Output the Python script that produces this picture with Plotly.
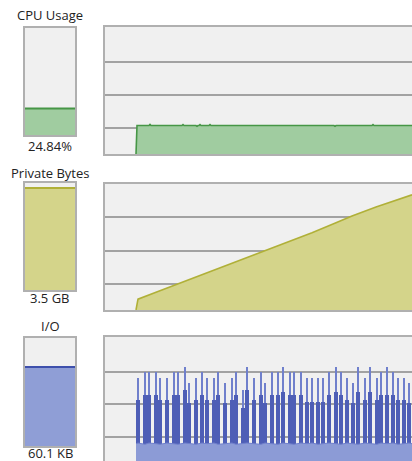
import plotly.graph_objects as go

W, H = 412, 461

# ---------------- data ----------------
titles = ["CPU Usage", "Private Bytes", "I/O"]
value_labels = ["24.84%", "3.5 GB", "60.1 KB"]

# CPU usage (%)
cpu_now = 24.84
cpu_t = [0, 1, 13, 14, 15, 46, 47, 48, 60, 61, 62, 63, 64, 65, 73, 74, 75,
         198, 199, 200, 236, 237, 238, 276]
cpu_pct = [0, 22.4, 22.4, 23.3, 22.4, 22.4, 23.2, 22.4, 22.4, 21.8, 22.4, 22.4,
           23.2, 22.4, 22.4, 23.2, 22.4, 22.4, 21.8, 22.4, 22.4, 23.1, 22.4, 22.4]

# Private bytes (GB)
pb_now = 3.5
pb_t = [0, 2, 20, 40, 60, 80, 100, 124, 150, 176, 200, 216, 240, 260, 276]
pb_gb = [0, 0.33, 0.54, 0.77, 1.00, 1.23, 1.46, 1.73, 2.04, 2.35, 2.65, 2.86,
         3.13, 3.34, 3.50]

# I/O (KB)
io_now = 60.1
io_t = [2, 9, 13, 20, 24, 31, 38, 42, 49, 53, 60, 66, 71, 78, 82, 89, 96, 100,
        107, 111, 118, 125, 129, 136, 142, 147, 154, 158, 165, 171, 176, 182,
        187, 193, 200, 205, 211, 217, 222, 229, 234, 241, 245, 251, 257, 262,
        268, 273]
io_peak = [67.5, 72.7, 72.7, 72.7, 67.5, 67.5, 72.7, 72.7, 76.6, 63.5, 67.5,
           72.7, 67.5, 67.5, 72.7, 63.5, 67.5, 72.7, 58.3, 76.6, 67.5, 72.7,
           63.5, 72.7, 72.7, 76.6, 72.7, 72.7, 72.7, 67.5, 67.5, 67.5, 67.5,
           72.7, 76.6, 72.7, 67.5, 63.5, 76.6, 67.5, 76.6, 67.5, 72.7, 76.6,
           72.7, 67.5, 67.5, 63.5]
io_burst = [50.4, 54.3, 54.3, 54.3, 50.4, 50.4, 54.3, 54.3, 58.3, 47.8, 50.4,
            54.3, 50.4, 50.4, 54.3, 47.8, 50.4, 54.3, 43.8, 58.3, 50.4, 54.3,
            47.8, 54.3, 54.3, 57.0, 54.3, 54.3, 54.3, 49.1, 49.1, 49.1, 49.1,
            54.3, 57.0, 54.3, 50.4, 47.8, 57.0, 50.4, 57.0, 50.4, 54.3, 54.0,
            54.3, 50.4, 50.4, 47.8]
io_base_t = [0, 2, 9, 13, 20, 24, 31, 38, 42, 49, 53, 60, 66, 71, 78, 82, 89,
             96, 100, 107, 111, 118, 125, 129, 136, 142, 147, 154, 158, 165,
             171, 176, 182, 187, 193, 200, 205, 211, 217, 222, 229, 234, 241,
             245, 251, 257, 262, 268, 273, 276]
io_base = [16, 16.5, 15.5, 16.5, 16, 15.5, 16.5, 16, 15.5, 16.5, 16, 15.5, 16.5,
           16, 16.5, 15.5, 16, 16.5, 15.5, 16, 16.5, 16, 15.5, 16.5, 16, 15.5,
           16.5, 16, 15.5, 16.5, 16, 16.5, 15.5, 16, 16.5, 16, 15.5, 16.5, 16,
           15.5, 16.5, 16, 15.5, 16.5, 16, 16.5, 15.5, 16, 16.5, 16]

# ---------------- styles ----------------
BG = "#f0f0f0"
BORDER = "#b0b0b0"
GRID = "#a2a2a2"
FONT = dict(family="Open Sans", size=13, color="#222222")

green_fill, green_line = "rgb(160,204,160)", "rgb(70,150,70)"
yel_fill, yel_line = "rgb(212,212,138)", "rgb(176,176,56)"
blue_fill, blue_line = "rgb(143,158,214)", "rgb(62,80,172)"
blue_spike, blue_burst, blue_base = "rgb(112,128,204)", "rgb(78,94,182)", "rgb(140,155,214)"

def py(p):
    return 1 - p / H

def px(p):
    return p / W

fig = go.Figure()

# left gauge boxes
fig.add_trace(go.Scatter(x=[-0.5, 0.5], y=[cpu_now, cpu_now], mode="lines",
                         line=dict(color=green_line, width=2), fill="tozeroy",
                         fillcolor=green_fill, xaxis="x", yaxis="y", hoverinfo="skip"))
fig.add_trace(go.Scatter(x=[-0.5, 0.5], y=[pb_now, pb_now], mode="lines",
                         line=dict(color=yel_line, width=2), fill="tozeroy",
                         fillcolor=yel_fill, xaxis="x3", yaxis="y3", hoverinfo="skip"))
fig.add_trace(go.Scatter(x=[-0.5, 0.5], y=[io_now, io_now], mode="lines",
                         line=dict(color=blue_line, width=2), fill="tozeroy",
                         fillcolor=blue_fill, xaxis="x5", yaxis="y5", hoverinfo="skip"))

# history charts
fig.add_trace(go.Scatter(x=cpu_t, y=cpu_pct, mode="lines",
                         line=dict(color=green_line, width=1.6), fill="tozeroy",
                         fillcolor=green_fill, xaxis="x2", yaxis="y2"))
fig.add_trace(go.Scatter(x=pb_t, y=pb_gb, mode="lines",
                         line=dict(color=yel_line, width=1.6), fill="tozeroy",
                         fillcolor=yel_fill, xaxis="x4", yaxis="y4"))
fig.add_trace(go.Scatter(x=io_base_t, y=io_base, mode="lines",
                         line=dict(color=blue_spike, width=1), fill="tozeroy",
                         fillcolor=blue_base, xaxis="x6", yaxis="y6"))
fig.add_trace(go.Bar(x=io_t, y=io_peak, width=1.6, marker=dict(color=blue_spike, line=dict(width=0)),
                     xaxis="x6", yaxis="y6"))
fig.add_trace(go.Bar(x=io_t, y=io_burst, width=3.2, marker=dict(color=blue_burst, line=dict(width=0)),
                     xaxis="x6", yaxis="y6"))

box_x = [px(25), px(75)]
chart_x = [px(105), 1.0]

def hide_ax(**kw):
    d = dict(showticklabels=False, ticks="", zeroline=False, showgrid=False, fixedrange=True)
    d.update(kw)
    return d

layout = dict(
    width=W, height=H, margin=dict(l=0, r=0, t=0, b=0),
    paper_bgcolor="white", plot_bgcolor=BG, showlegend=False, barmode="overlay",
    bargap=0,
)
# boxes
for xa, ya, xname, yname, ydom, rmax in [
        ("xaxis", "yaxis", "x", "y", [py(135), py(28)], 100),
        ("xaxis3", "yaxis3", "x3", "y3", [py(290), py(183)], 3.67),
        ("xaxis5", "yaxis5", "x5", "y5", [py(446), py(338)], 82.2)]:
    layout[xa] = hide_ax(domain=box_x, range=[-0.5, 0.5], anchor=yname,
                         showline=True, mirror=True, linecolor=BORDER, linewidth=2)
    layout[ya] = hide_ax(domain=ydom, range=[0, rmax], anchor=xname,
                         showline=True, mirror=True, linecolor=BORDER, linewidth=2)

xr = [-31, 276]
layout["xaxis2"] = hide_ax(domain=chart_x, range=xr, anchor="y2", showline=True,
                           mirror=True, linecolor=BORDER, linewidth=2)
layout["yaxis2"] = hide_ax(domain=[py(154), py(27)], range=[0, 100], anchor="x2",
                           showline=True, linecolor=BORDER, linewidth=2,
                           showgrid=True, gridcolor=GRID, gridwidth=1.6,
                           tickmode="array", tickvals=[20.5, 46.5, 72.4])
layout["xaxis4"] = hide_ax(domain=chart_x, range=xr, anchor="y4", showline=True,
                           mirror=True, linecolor=BORDER, linewidth=2)
layout["yaxis4"] = hide_ax(domain=[py(310), py(184)], range=[0, 3.83], anchor="x4",
                           showline=True, linecolor=BORDER, linewidth=2,
                           showgrid=True, gridcolor=GRID, gridwidth=1.6,
                           tickmode="array", tickvals=[0.79, 1.793, 2.827])
layout["xaxis6"] = hide_ax(domain=chart_x, range=xr, anchor="y6", side="top",
                           showline=True, linecolor=BORDER, linewidth=2)
layout["yaxis6"] = hide_ax(domain=[0, py(337)], range=[2.36, 100], anchor="x6",
                           showline=True, linecolor=BORDER, linewidth=2,
                           showgrid=True, gridcolor=GRID, gridwidth=1.6,
                           tickmode="array", tickvals=[21.3, 47.2, 72.4])

fig.update_layout(**layout)

anns = []
for txt, yy in zip(titles, [15, 173, 326]):
    anns.append(dict(text=txt, x=px(50), y=py(yy), xref="paper", yref="paper",
                     showarrow=False, xanchor="center", yanchor="middle", font=FONT))
for txt, yy in zip(value_labels, [146, 298, 453]):
    anns.append(dict(text=txt, x=px(50), y=py(yy), xref="paper", yref="paper",
                     showarrow=False, xanchor="center", yanchor="middle", font=FONT))
fig.update_layout(annotations=anns)

fig.write_html(
    "out.html",
    config={"displayModeBar": False},
    post_script="document.body.style.margin='0';document.body.style.padding='0';"
                "document.documentElement.style.overflow='hidden';",
)
